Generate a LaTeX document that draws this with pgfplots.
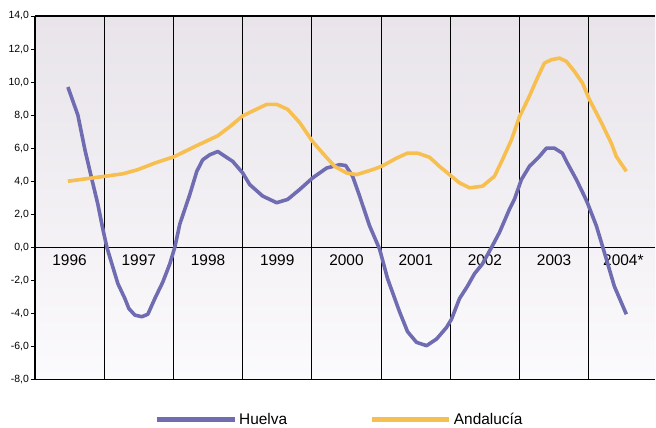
\documentclass[border=0pt]{standalone}
\usepackage{pgfplots}
\pgfplotsset{compat=1.18}
\usepackage{fontspec}
\setmainfont{Liberation Sans}
\usetikzlibrary{shadings}
\definecolor{huelva}{RGB}{112,108,178}
\definecolor{andalucia}{RGB}{247,190,80}
\definecolor{bgtop}{RGB}{232,228,234}
\definecolor{bgbot}{RGB}{251,250,252}

\pgfplotstableread{
x y
0.476 9.7
0.620 8.0
0.722 5.9
0.823 4.1
0.909 2.6
0.981 1.1
1.039 0.0
1.111 -1.0
1.198 -2.2
1.299 -3.1
1.356 -3.7
1.443 -4.1
1.544 -4.2
1.631 -4.05
1.732 -3.1
1.847 -2.1
1.948 -1.0
2.020 0.0
2.092 1.4
2.237 3.2
2.338 4.6
2.424 5.3
2.525 5.6
2.641 5.8
2.857 5.2
3.001 4.5
3.102 3.8
3.290 3.1
3.492 2.7
3.651 2.9
3.824 3.5
4.011 4.2
4.214 4.8
4.401 5.0
4.488 4.95
4.589 4.3
4.690 3.1
4.834 1.3
4.978 -0.1
5.094 -1.9
5.267 -3.9
5.382 -5.1
5.512 -5.75
5.657 -5.95
5.801 -5.55
5.945 -4.85
6.017 -4.35
6.133 -3.1
6.248 -2.35
6.349 -1.6
6.465 -1.0
6.609 0.1
6.710 0.9
6.854 2.3
6.926 2.9
7.027 4.1
7.143 4.9
7.287 5.5
7.388 6.0
7.504 6.0
7.619 5.7
7.691 5.1
7.821 4.1
7.937 3.1
7.980 2.7
8.110 1.3
8.225 -0.3
8.369 -2.35
8.543 -4.05
}\huelvadata

\pgfplotstableread{
x y
0.476 4.0
1.010 4.3
1.270 4.45
1.486 4.7
1.732 5.1
2.020 5.5
2.309 6.1
2.641 6.75
2.814 7.3
3.001 7.95
3.146 8.25
3.348 8.65
3.492 8.65
3.651 8.35
3.824 7.55
4.011 6.4
4.156 5.7
4.329 4.9
4.502 4.5
4.646 4.4
4.877 4.7
5.007 4.9
5.224 5.4
5.382 5.7
5.527 5.7
5.700 5.45
5.844 4.9
6.017 4.3
6.133 3.9
6.277 3.6
6.465 3.7
6.638 4.3
6.753 5.3
6.883 6.5
6.999 7.9
7.143 9.15
7.258 10.25
7.359 11.15
7.460 11.35
7.576 11.45
7.677 11.25
7.792 10.65
7.908 9.95
8.009 8.95
8.182 7.55
8.326 6.3
8.398 5.5
8.543 4.6
}\andaluciadata

\begin{document}
\begin{tikzpicture}
\begin{axis}[
  at={(0,0)}, anchor=south west,
  scale only axis,
  width=621bp, height=364bp,
  xmin=0, xmax=8.96,
  ymin=-8, ymax=14,
  axis x line*=bottom,
  axis y line*=left,
  axis line style={black, line width=1.6bp},
  axis background/.style={top color=bgtop, bottom color=bgbot},
  xtick={0.5,1.5,...,8.5},
  xticklabels={1996,1997,1998,1999,2000,2001,2002,2003,2004*},
  xticklabel style={font=\fontsize{15.5}{17}\selectfont, yshift=132.4bp},
  x tick style={draw=none},
  extra x ticks={1,2,3,4,5,6,7,8},
  extra x tick labels={},
  extra x tick style={grid=major, major grid style={black, line width=0.9bp}, major tick length=0pt},
  ytick={-8,-6,...,14},
  ytick pos=left,
  y tick style={black, line width=0.8bp},
  tick align=outside,
  major tick length=4bp,
  yticklabel style={font=\fontsize{10.5}{12}\selectfont, xshift=1.5bp},
  /pgf/number format/.cd, fixed, fixed zerofill, precision=1, use comma, assume math mode=true,
  /pgfplots/.cd,
  legend columns=2,
  legend style={at={(0.192,-0.11)}, anchor=west, draw=none, fill=none,
    inner sep=0pt, font=\fontsize{15.5}{17}\selectfont,
    /tikz/every even column/.append style={column sep=80bp}},
  legend image code/.code={\draw[#1, line width=5bp] (0bp,0bp) -- (78bp,0bp);},
  clip=false,
]
\draw[black, line width=0.9bp] (axis cs:0,0) -- (axis cs:8.96,0);
\draw[black, line width=1.4bp] (rel axis cs:0,1) -- (rel axis cs:1,1);
\addplot[huelva, line width=3.6bp, line join=round] table[x=x,y=y] {\huelvadata};
\addlegendentry{Huelva}
\addplot[andalucia, line width=3.6bp, line join=round] table[x=x,y=y] {\andaluciadata};
\addlegendentry{Andalucía}
\end{axis}
\path[use as bounding box] (-35bp,-46bp) rectangle (621bp,380bp);
\end{tikzpicture}
\end{document}
